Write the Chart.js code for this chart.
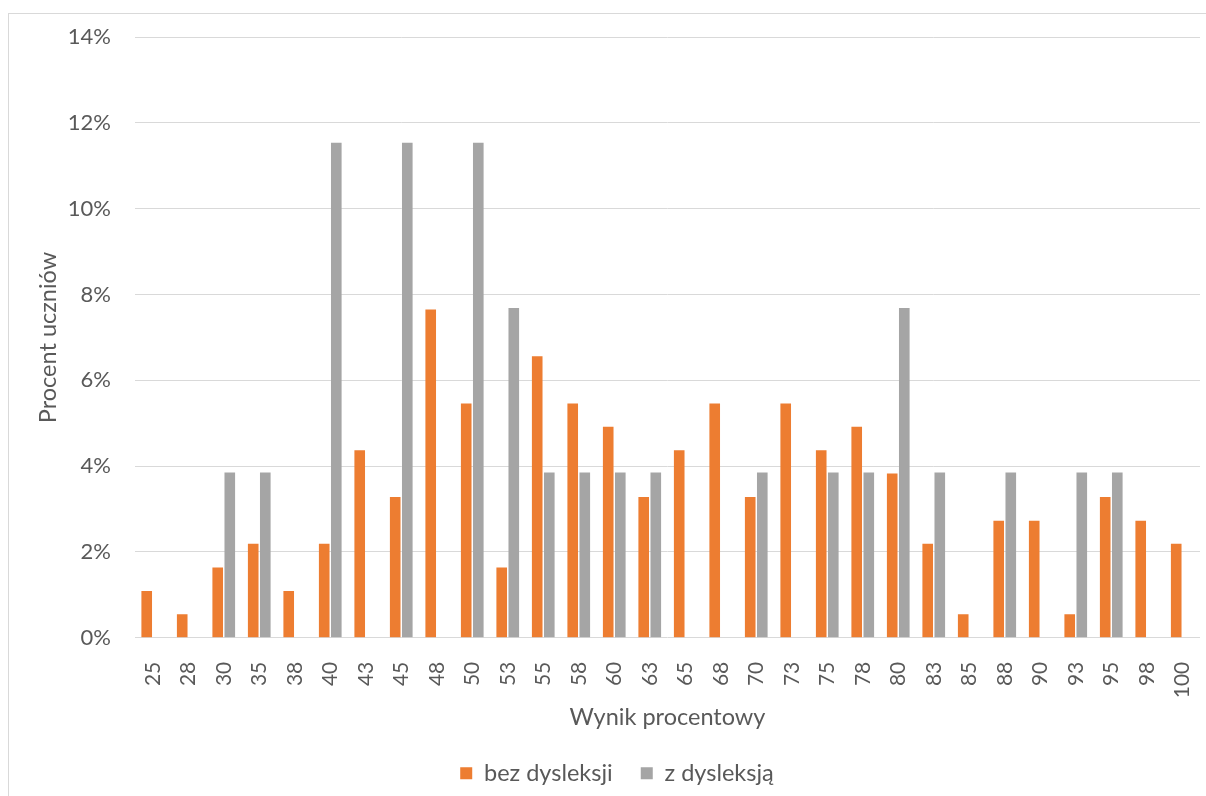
<!DOCTYPE html>
<html>
<head>
<meta charset="utf-8">
<script src="https://cdn.jsdelivr.net/npm/chart.js@4"></script>
<style>
  html, body { margin: 0; padding: 0; background: #ffffff; }
  #wrap { position: absolute; left: 0; top: 0; width: 1206px; height: 796px; }
  #frame { position: absolute; left: 8px; top: 13px; width: 1198px; height: 783px;
           border-left: 1px solid #D9D9D9; border-top: 1px solid #D9D9D9; box-sizing: border-box; }
  #c { position: absolute; left: 0; top: 0; }
</style>
</head>
<body>
<div id="wrap">
  <div id="frame"></div>
  <canvas id="c" width="1206" height="796"></canvas>
</div>
<script>
const categories = ["25","28","30","35","38","40","43","45","48","50","53","55","58","60","63","65","68","70","73","75","78","80","83","85","88","90","93","95","98","100"];
const bezDysleksji = [1.09,0.55,1.64,2.19,1.09,2.19,4.37,3.28,7.65,5.46,1.64,6.56,5.46,4.92,3.28,4.37,5.46,3.28,5.46,4.37,4.92,3.83,2.19,0.55,2.73,2.73,0.55,3.28,2.73,2.19];
const zDysleksja = [0,0,3.85,3.85,0,11.54,0,11.54,0,11.54,7.69,3.85,3.85,3.85,3.85,0,0,3.85,0,3.85,3.85,7.69,3.85,0,3.85,0,3.85,3.85,0,0];
const seriesNames = ["bez dysleksji", "z dysleksją"];
const yTicks = [0,2,4,6,8,10,12,14];
const xTitle = "Wynik procentowy";
const yTitle = "Procent uczniów";

const FONT = "Lato, 'Open Sans', sans-serif";
const TXT = "#595959";
const FS = 22;
const FT = 23.5;

new Chart(document.getElementById('c'), {
  type: 'bar',
  data: {
    labels: categories,
    datasets: [
      { label: seriesNames[0], data: bezDysleksji, backgroundColor: '#ED7D31', borderWidth: 0 },
      { label: seriesNames[1], data: zDysleksja, backgroundColor: '#A5A5A5', borderWidth: 0 }
    ]
  },
  options: {
    responsive: false,
    animation: false,
    devicePixelRatio: 1,
    datasets: { bar: { categoryPercentage: 0.68, barPercentage: 0.88 } },
    layout: { padding: { left: 34, right: 6, top: 26, bottom: 1 } },
    plugins: {
      tooltip: { enabled: false },
      legend: {
        position: 'bottom',
        labels: { color: TXT, font: { family: FONT, size: FT }, boxWidth: 12, boxHeight: 12, padding: 28 }
      }
    },
    scales: {
      x: {
        grid: { display: false },
        border: { display: false },
        afterFit: (axis) => { axis.paddingLeft = 0; axis.paddingRight = 0; },
        ticks: { color: TXT, font: { family: FONT, size: 21 }, minRotation: 90, maxRotation: 90, padding: 16, autoSkip: false },
        title: { display: true, text: xTitle, color: TXT, font: { family: FONT, size: FT }, padding: { top: -11, bottom: 2 } }
      },
      y: {
        min: 0, max: 14,
        afterBuildTicks: (axis) => { axis.ticks = yTicks.map(v => ({ value: v })); },
        afterFit: (axis) => { axis.width = 101; },
        grid: { color: '#D9D9D9', drawTicks: false, lineWidth: 1 },
        border: { display: false },
        ticks: { color: TXT, font: { family: FONT, size: FS }, padding: 24, callback: (v) => v + '%' },
        title: { display: true, text: yTitle, color: TXT, font: { family: FONT, size: FT }, padding: { top: 0, bottom: 8 } }
      }
    }
  }
});
</script>
</body>
</html>
